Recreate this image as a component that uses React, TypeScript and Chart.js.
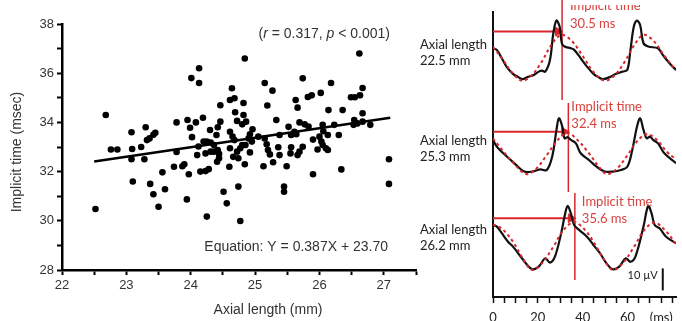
import React, { useEffect, useRef } from 'react';
import { Chart, registerables } from 'chart.js';

Chart.register(...registerables);

// ---------- Left panel: scatter of axial length vs implicit time ----------
const scatterPoints: [number, number][] = [
  [22.52, 30.48], [22.68, 34.3], [22.76, 32.9], [22.86, 32.9],
  [23.08, 33.6], [23.09, 32.92], [23.08, 32.5], [23.1, 31.6], [23.23, 33.0], [23.28, 32.5],
  [23.3, 33.8], [23.32, 33.28], [23.36, 33.35], [23.37, 31.5], [23.42, 33.5], [23.45, 33.58],
  [23.42, 31.08], [23.5, 30.57],
  [23.56, 31.97], [23.6, 31.28], [23.74, 32.2], [23.78, 34.0], [23.78, 32.8], [23.87, 32.22],
  [23.9, 32.3], [23.94, 30.87], [23.95, 34.1], [23.97, 31.89], [23.99, 33.78], [24.01, 35.8],
  [24.02, 33.4], [24.08, 34.0], [24.1, 32.67], [24.12, 33.02], [24.13, 36.2], [24.13, 35.6],
  [24.15, 32.0], [24.19, 34.19], [24.2, 33.22], [24.23, 32.02], [24.23, 32.74], [24.25, 30.17],
  [24.25, 33.22], [24.28, 32.1], [24.3, 33.69], [24.31, 33.18], [24.31, 32.81], [24.36, 32.81],
  [24.36, 33.08], [24.4, 33.49], [24.41, 32.4], [24.42, 32.88], [24.42, 33.8], [24.44, 32.72],
  [24.44, 32.54], [24.46, 34.03], [24.46, 34.7],
  [24.51, 31.18], [24.56, 30.71], [24.6, 32.2], [24.61, 34.91], [24.61, 33.62], [24.61, 32.95],
  [24.64, 35.39], [24.65, 33.42], [24.66, 32.6], [24.68, 34.98], [24.68, 33.28], [24.69, 34.41],
  [24.72, 34.06], [24.72, 32.81], [24.74, 31.39], [24.74, 32.54], [24.77, 29.99], [24.77, 32.95],
  [24.8, 33.92], [24.8, 33.08], [24.82, 34.3], [24.82, 34.79], [24.84, 36.6], [24.84, 32.3],
  [24.85, 33.08], [24.86, 34.03], [24.9, 33.35], [24.92, 33.52], [24.92, 32.78], [24.95, 33.22],
  [24.96, 33.72],
  [25.05, 33.42], [25.13, 32.22], [25.15, 35.6], [25.15, 33.35], [25.18, 33.11], [25.19, 34.69],
  [25.2, 32.88], [25.23, 32.7], [25.27, 35.29], [25.28, 32.38], [25.33, 34.1], [25.36, 32.99],
  [25.38, 32.67], [25.38, 33.49], [25.45, 31.39], [25.45, 31.18], [25.49, 32.22], [25.52, 33.82],
  [25.56, 33.49], [25.56, 32.99], [25.55, 32.74], [25.61, 33.62], [25.63, 34.91], [25.64, 33.52],
  [25.66, 34.6], [25.66, 32.67], [25.69, 34.0], [25.69, 32.81], [25.74, 35.79], [25.74, 33.01],
  [25.77, 33.92], [25.83, 33.83], [25.82, 35.03], [25.88, 35.1], [25.9, 33.3], [25.9, 31.89],
  [25.97, 32.9],
  [26.02, 35.2], [26.0, 33.42], [26.03, 33.22], [26.05, 33.9], [26.06, 33.64], [26.05, 33.08],
  [26.1, 32.95], [26.13, 32.88], [26.13, 33.49], [26.14, 34.5], [26.18, 35.6], [26.23, 33.9],
  [26.3, 33.49], [26.34, 32.09], [26.36, 34.5],
  [26.49, 35.02], [26.55, 35.02], [26.53, 33.9], [26.54, 34.1], [26.59, 33.96], [26.62, 36.8],
  [26.63, 35.1], [26.67, 35.4], [26.67, 34.37], [26.67, 34.03], [26.79, 33.9], [27.08, 32.5],
  [27.08, 31.5],
];
const regressionLine: [number, number][] = [[22.5, 32.41], [27.1, 34.19]];
const xLabelTicks = [22, 23, 24, 25, 26, 27];
const yLabelTicks = [28, 30, 32, 34, 36, 38];
const xTitle = 'Axial length (mm)';
const yTitle = 'Implicit time (msec)';
const statsText: [string, boolean][] = [['(', false], ['r', true], [' = 0.317, ', false], ['p', true], [' < 0.001)', false]];
const equationText = 'Equation: Y = 0.387X + 23.70';

// ---------- Right panel: flicker ERG waveforms (time ms, offset µV) ----------
const trace1Black: [number, number][] = [
  [0, 113.0], [1.7, 112.3], [3.9, 108.5], [6.0, 104.7], [8.9, 101.4], [11.0, 100.1], [13.2, 99.0],
  [15.3, 99.9], [18.2, 100.9], [20.4, 102.4], [21.8, 102.9], [23.3, 102.4], [25.4, 107.7], [26.9, 119.9],
  [28.3, 125.6], [29.7, 122.9], [30.7, 115.3], [31.9, 113.8], [34.7, 113.0], [36.2, 112.3], [39.1, 108.5],
  [41.9, 104.7], [44.8, 101.4], [47.0, 99.9], [49.1, 99.0], [52.0, 99.9], [54.9, 101.4], [57.8, 102.4],
  [59.9, 103.2], [61.3, 112.3], [62.8, 122.9], [64.2, 125.6], [65.6, 123.6], [67.1, 115.3], [69.2, 113.8],
  [73.5, 113.0], [75.7, 110.0], [79.3, 105.5], [81.6, 103.2],
];
const trace1Fit: [number, number][] = [
  [0, 113.6], [4, 108.5], [8.5, 102], [12.9, 98.3], [17, 100.5], [21.5, 106.5], [26, 114.5], [30.4, 119.1],
  [35, 116.5], [40, 109.5], [45, 102], [49.8, 98.3], [54, 100.5], [58.5, 106.5], [63, 114.5], [67.1, 119.1],
  [71.5, 116.5], [76.5, 109.5], [81.6, 103],
];
const trace2Black: [number, number][] = [
  [0, 71.4], [1.7, 68.3], [4.6, 65.3], [7.5, 62.6], [10.3, 60.0], [13.9, 57.0], [17.5, 57.0], [21.1, 58.0],
  [24.0, 57.7], [26.4, 63.8], [28.3, 75.9], [29.4, 81.2], [30.9, 77.4], [31.9, 72.1], [33.3, 72.6],
  [34.7, 71.4], [36.9, 69.9], [39.1, 65.3], [42.7, 62.3], [46.2, 59.2], [49.8, 57.0], [53.4, 57.0],
  [57.0, 57.7], [59.9, 59.2], [62.1, 66.8], [64.2, 77.4], [65.6, 81.2], [67.1, 75.9], [68.5, 72.1],
  [70.0, 72.9], [71.4, 71.4], [73.5, 69.9], [76.4, 65.3], [81.6, 60.8],
];
const trace2Fit: [number, number][] = [
  [0, 72], [4, 67], [9, 61], [14.7, 55.9], [19, 58], [24, 64.5], [29, 71.5], [33.3, 74.5], [38, 71],
  [43, 65], [47, 59.5], [50.6, 55.9], [55, 58], [60, 64.5], [64.5, 71], [68.5, 74], [73, 71.5],
  [77.5, 66], [81.6, 62.5],
];
const trace3Black: [number, number][] = [
  [0, 32.7], [1.7, 32.0], [3.9, 29.0], [6.7, 25.1], [8.9, 22.9], [11.8, 19.1], [15.3, 14.5], [17.5, 12.6],
  [20.4, 13.8], [23.3, 17.6], [25.4, 15.6], [27.6, 18.3], [30.4, 29.0], [32.2, 38.0], [33.3, 41.4],
  [34.7, 38.0], [36.2, 32.7], [38.4, 30.5], [41.9, 27.4], [44.8, 23.6], [47.7, 19.9], [50.6, 15.3],
  [53.4, 12.6], [56.3, 13.8], [59.2, 17.6], [61.3, 16.0], [63.5, 18.3], [67.1, 32.0], [69.2, 41.4],
  [70.7, 38.0], [72.1, 32.7], [74.3, 31.2], [77.2, 27.4], [81.6, 24.4],
];
const trace3Fit: [number, number][] = [
  [0, 33], [4, 31], [9, 25], [13, 18], [17.5, 12.3], [22, 15.5], [27, 23], [31.5, 30.5], [36.2, 34],
  [41, 30.5], [45.5, 24], [49.5, 17], [53.4, 12.3], [58, 15.5], [63, 23], [67.5, 30.5], [72.1, 33.8],
  [77, 30], [81.6, 24],
];
const traceLabels = [['Axial length', '22.5 mm'], ['Axial length', '25.3 mm'], ['Axial length', '26.2 mm']];
const implicitTimeText = ['30.5 ms', '32.4 ms', '35.6 ms'];
// vertical implicit-time markers: [time ms, top µV, bottom µV]
const implicitMarkers: [number, number, number][] = [[30.8, 137, 89.5], [33.6, 88.2, 47.7], [36.5, 47.3, 7.7]];
// arrows: [level µV, end time ms]
const arrowLevels: [number, number][] = [[120.6, 29.0], [75.1, 31.8], [35.8, 34.7]];
const scaleBar: [number, number][] = [[75.7, 3], [75.7, 13]];
const msTickLabels: Record<number, string> = { 0: '0', 20: '20', 40: '40', 60: '60', 75: '(ms)' };

const toXY = (arr: [number, number][]) => arr.map(([x, y]) => ({ x, y }));

const ARIAL = '"Liberation Sans", Arial, sans-serif';
const LATO = 'Lato, "Open Sans", sans-serif';
const RED = '#d9262c';
const RED_TEXT = '#d8413c';

const leftTextPlugin = {
  id: 'leftText',
  afterDraw(chart: any) {
    const { ctx, chartArea } = chart;
    ctx.save();
    ctx.fillStyle = '#333';
    ctx.font = `14px ${ARIAL}`;
    ctx.textAlign = 'center';
    ctx.textBaseline = 'middle';
    ctx.save();
    ctx.translate(17, (chartArea.top + chartArea.bottom) / 2 + 5);
    ctx.rotate(-Math.PI / 2);
    ctx.fillText(yTitle, 0, 0);
    ctx.restore();
    ctx.fillText(xTitle, 268, 310);
    // stats text with italics
    ctx.textAlign = 'left';
    ctx.textBaseline = 'alphabetic';
    const fontFor = (it: boolean) => `${it ? 'italic ' : ''}14px ${ARIAL}`;
    let total = 0;
    for (const [t, it] of statsText) { ctx.font = fontFor(it); total += ctx.measureText(t).width; }
    let x = 390 - total;
    for (const [t, it] of statsText) { ctx.font = fontFor(it); ctx.fillText(t, x, 38); x += ctx.measureText(t).width; }
    ctx.font = `14px ${ARIAL}`;
    ctx.textAlign = 'right';
    ctx.fillText(equationText, 388, 251);
    ctx.restore();
  },
};

const rightTextPlugin = {
  id: 'rightText',
  afterDraw(chart: any) {
    const { ctx, scales, width } = chart;
    ctx.save();
    ctx.font = `13px ${LATO}`;
    ctx.textBaseline = 'alphabetic';
    ctx.textAlign = 'left';
    ctx.fillStyle = '#222';
    const labelBase = [[48.5, 65], [145, 161], [234, 250]];
    traceLabels.forEach((lines, i) => {
      ctx.fillText(lines[0], 20, labelBase[i][0]);
      ctx.fillText(lines[1], 20, labelBase[i][1]);
    });
    ctx.fillStyle = RED_TEXT;
    const redBase = [[10, 28], [111, 128], [206, 223]];
    const offs = [8, 3, 7];
    implicitMarkers.forEach(([t], i) => {
      const px = scales.x.getPixelForValue(t) + offs[i];
      if (i === 0) {
        // the top label is cropped at the figure's upper edge in the source
        ctx.save();
        ctx.beginPath();
        ctx.rect(0, 5, width, 20);
        ctx.clip();
        ctx.fillText('Implicit time', px, redBase[i][0]);
        ctx.restore();
      } else {
        ctx.fillText('Implicit time', px, redBase[i][0]);
      }
      ctx.fillText(implicitTimeText[i], px, redBase[i][1]);
    });
    ctx.fillStyle = '#222';
    ctx.font = `11px ${LATO}`;
    ctx.textAlign = 'right';
    ctx.fillText('10 µV', scales.x.getPixelForValue(scaleBar[0][0]) - 5, 279);
    ctx.restore();
  },
};

export default function App() {
  const leftRef = useRef<HTMLCanvasElement>(null);
  const rightRef = useRef<HTMLCanvasElement>(null);

  useEffect(() => {
    const left = new Chart(leftRef.current!, {
      type: 'scatter',
      data: {
        datasets: [
          {
            type: 'scatter',
            data: toXY(scatterPoints),
            backgroundColor: '#000',
            borderWidth: 0,
            pointRadius: 3.3,
          } as any,
          {
            type: 'line',
            data: toXY(regressionLine),
            borderColor: '#000',
            borderWidth: 2.5,
            pointRadius: 0,
            fill: false,
          } as any,
        ],
      },
      options: {
        responsive: false,
        animation: false,
        events: [],
        layout: { padding: { top: 24, right: 2, bottom: 0, left: 0 } },
        plugins: { legend: { display: false }, tooltip: { enabled: false } },
        scales: {
          x: {
            type: 'linear',
            min: 22,
            max: 27.5,
            afterFit: (s: any) => { s.height = 51; },
            border: { display: true, color: '#000', width: 2.5 },
            grid: { display: true, drawOnChartArea: false, drawTicks: true, tickLength: 5, tickWidth: 2, tickColor: '#000' },
            ticks: {
              stepSize: 0.5,
              autoSkip: false,
              maxRotation: 0,
              includeBounds: false,
              padding: 3,
              color: '#333',
              font: { family: ARIAL, size: 13 },
              callback: (v: any) => (xLabelTicks.includes(Number(v)) ? String(v) : ''),
            },
          },
          y: {
            type: 'linear',
            min: 28,
            max: 38,
            afterFit: (s: any) => { s.width = 62; },
            border: { display: true, color: '#000', width: 2.5 },
            grid: { display: true, drawOnChartArea: false, drawTicks: true, tickLength: 5, tickWidth: 2, tickColor: '#000' },
            ticks: {
              stepSize: 1,
              autoSkip: false,
              includeBounds: false,
              padding: 3,
              color: '#333',
              font: { family: ARIAL, size: 13 },
              callback: (v: any) => (yLabelTicks.includes(Number(v)) ? String(v) : ''),
            },
          },
        },
      },
      plugins: [leftTextPlugin],
    });

    const lineDs = (data: [number, number][], color: string, width: number, extra: any = {}) => ({
      type: 'line',
      data: toXY(data),
      borderColor: color,
      borderWidth: width,
      pointRadius: 0,
      fill: false,
      tension: 0.35,
      ...extra,
    });

    const rightDatasets: any[] = [
      lineDs(trace1Fit, RED, 2, { borderDash: [3, 3] }),
      lineDs(trace2Fit, RED, 2, { borderDash: [3, 3] }),
      lineDs(trace3Fit, RED, 2, { borderDash: [3, 3] }),
      lineDs(trace1Black, '#111', 2.2),
      lineDs(trace2Black, '#111', 2.2),
      lineDs(trace3Black, '#111', 2.2),
      ...implicitMarkers.map(([t, top, bottom]) =>
        lineDs([[t, top], [t, bottom]], RED, 1.5, { tension: 0, clip: false })),
      ...arrowLevels.map(([lvl, end]) => ({
        ...lineDs([[0, lvl], [end, lvl]], RED, 2, { tension: 0, clip: false }),
        pointRadius: [0, 5],
        pointStyle: 'triangle',
        rotation: 90,
        pointBackgroundColor: RED,
        pointBorderColor: RED,
        pointBorderWidth: 1,
      })),
      lineDs(scaleBar, '#111', 2, { tension: 0 }),
    ];

    const right = new Chart(rightRef.current!, {
      type: 'line',
      data: { datasets: rightDatasets },
      options: {
        responsive: false,
        animation: false,
        events: [],
        layout: { padding: { top: 12, right: 0, bottom: 0, left: 92 } },
        plugins: { legend: { display: false }, tooltip: { enabled: false } },
        scales: {
          x: {
            type: 'linear',
            min: 0,
            max: 81.6,
            afterFit: (s: any) => { s.height = 24; },
            border: { display: true, color: '#111', width: 2 },
            grid: { display: true, drawOnChartArea: false, drawTicks: true, tickLength: 6, tickWidth: 1.5, tickColor: '#111' },
            ticks: {
              stepSize: 5,
              autoSkip: false,
              maxRotation: 0,
              includeBounds: false,
              padding: 7,
              color: '#222',
              font: { family: LATO, size: 13 },
              callback: (v: any) => msTickLabels[Number(v)] ?? '',
            },
          },
          y: {
            type: 'linear',
            min: 0,
            max: 129.5,
            afterFit: (s: any) => { s.width = 1; },
            border: { display: true, color: '#111', width: 2 },
            grid: { display: false },
            ticks: { display: false },
          },
        },
      },
      plugins: [rightTextPlugin],
    });

    return () => {
      left.destroy();
      right.destroy();
    };
  }, []);

  return (
    <div style={{ position: 'fixed', left: 0, top: 0, width: 682, height: 321, background: '#fff', overflow: 'hidden' }}>
      <canvas ref={leftRef} width={420} height={321} style={{ position: 'absolute', left: 0, top: 0, width: 420, height: 321 }} />
      <canvas ref={rightRef} width={282} height={321} style={{ position: 'absolute', left: 400, top: 0, width: 282, height: 321 }} />
    </div>
  );
}
